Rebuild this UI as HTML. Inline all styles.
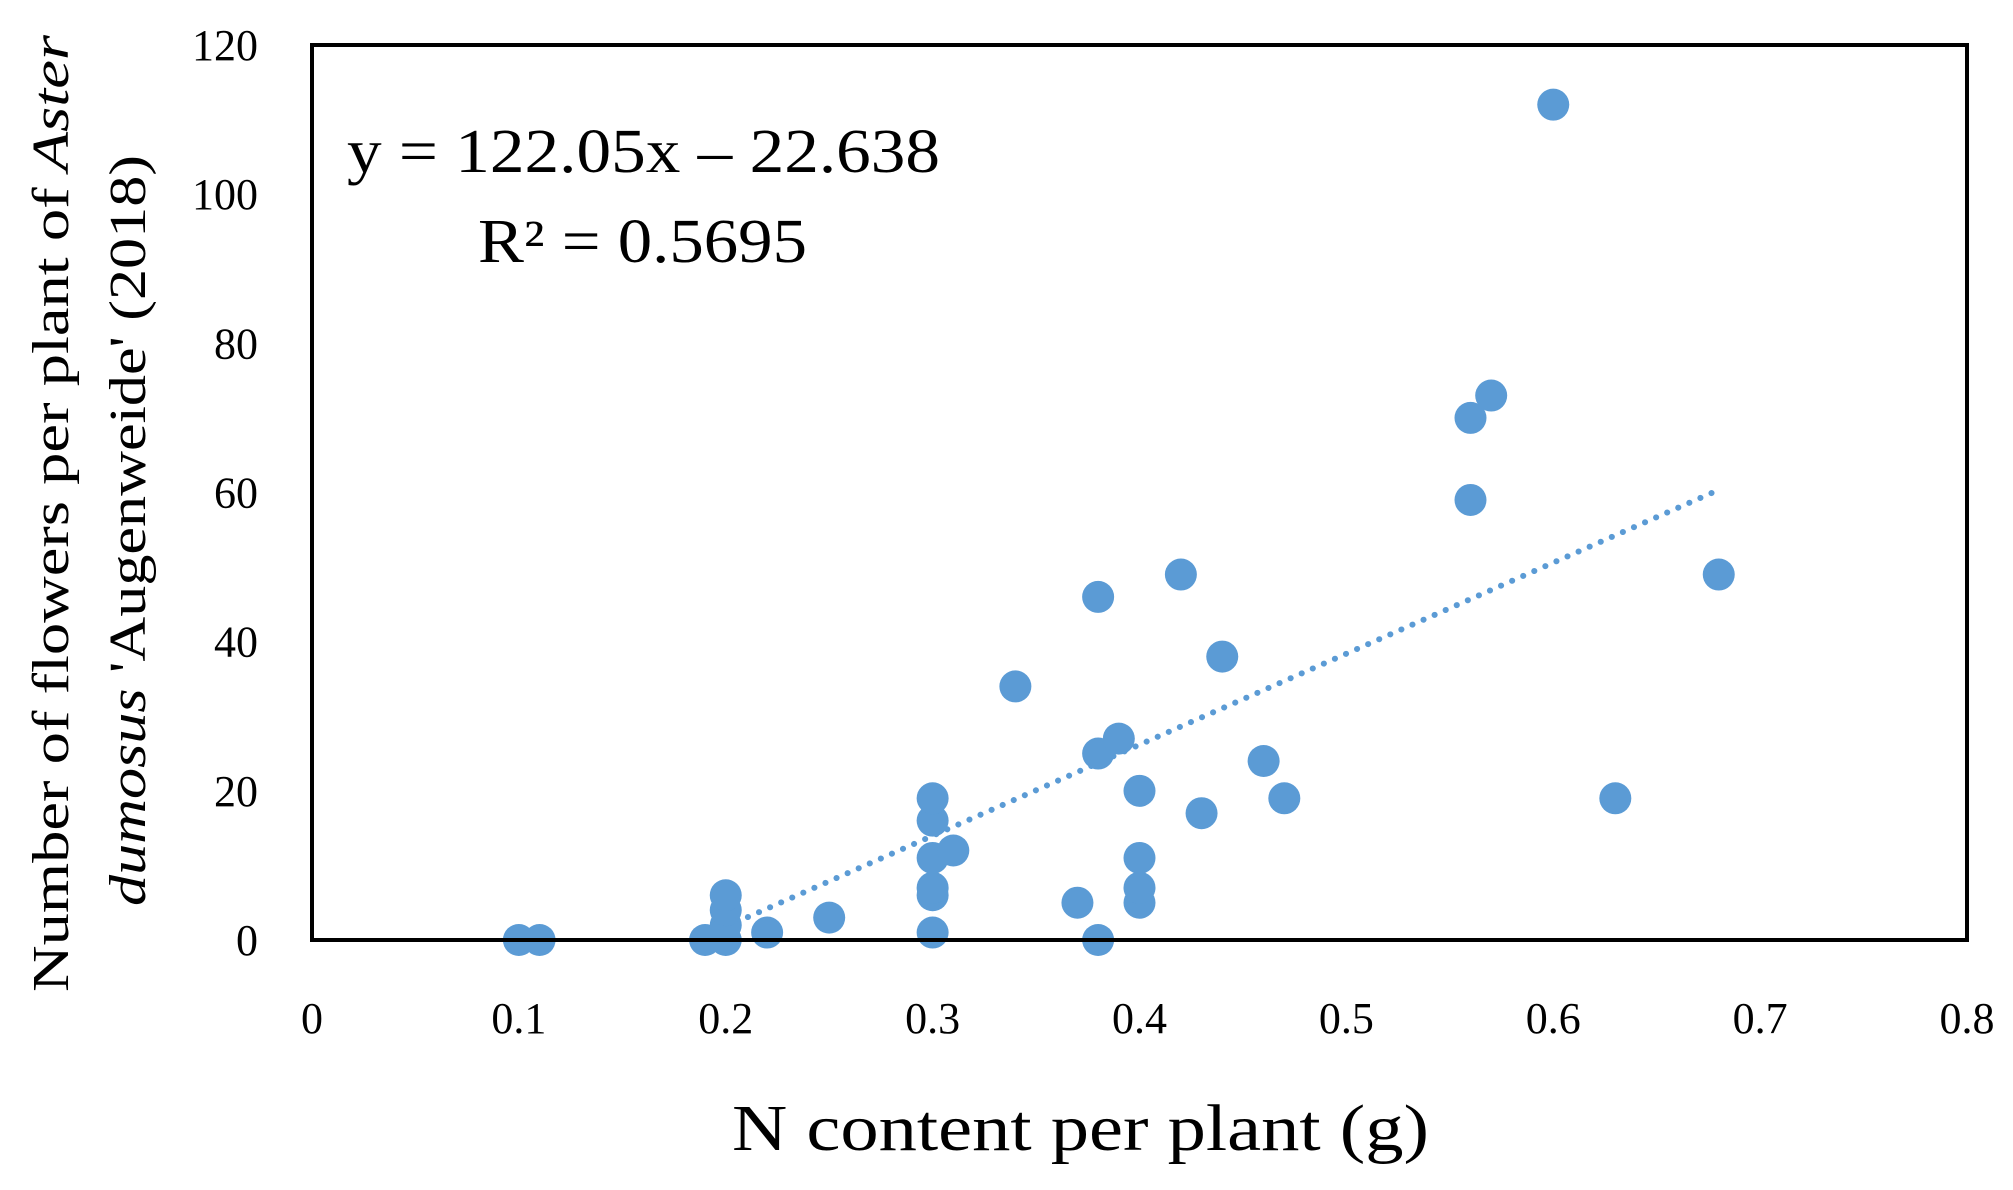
<!DOCTYPE html>
<html><head><meta charset="utf-8"><style>
html,body{margin:0;padding:0;background:#fff}
svg{display:block;font-family:"Liberation Serif","DejaVu Serif",serif}
</style></head><body>
<svg id="chart" width="2013" height="1190" viewBox="0 0 2013 1190" xmlns="http://www.w3.org/2000/svg">
<g id="marks"></g>
<rect x="312" y="45" width="1655" height="895" fill="none" stroke="#000" stroke-width="4"/>
<g id="ticks"></g>
<text x="347" y="172" font-size="62" textLength="593" lengthAdjust="spacingAndGlyphs">y = 122.05x – 22.638</text>
<text x="478" y="262" font-size="62" textLength="329" lengthAdjust="spacingAndGlyphs">R² = 0.5695</text>
<text x="732" y="1150" font-size="66" textLength="697" lengthAdjust="spacingAndGlyphs">N content per plant (g)</text>
<g transform="translate(0,514) rotate(-90)" font-size="52">
<text x="-478" y="68" textLength="957" lengthAdjust="spacingAndGlyphs">Number of flowers per plant of <tspan font-style="italic">Aster</tspan></text>
<text x="-392" y="145" textLength="751" lengthAdjust="spacingAndGlyphs"><tspan font-style="italic">dumosus</tspan> 'Augenweide' (2018)</text>
</g>
</svg>
<script>
const xValues=[0.1,0.11,0.19,0.2,0.2,0.2,0.2,0.22,0.25,0.3,0.3,0.3,0.3,0.3,0.3,0.31,0.34,0.37,0.38,0.38,0.38,0.39,0.4,0.4,0.4,0.4,0.42,0.43,0.44,0.46,0.47,0.56,0.56,0.57,0.6,0.63,0.68];
const yValues=[0,0,0,0,2,4,6,1,3,1,6,7,11,16,19,12,34,5,0,25,46,27,5,7,11,20,49,17,38,24,19,59,70,73,112,19,49];
const xTicks=[0,0.1,0.2,0.3,0.4,0.5,0.6,0.7,0.8];
const yTicks=[0,20,40,60,80,100,120];
const trendSlope=122.05, trendIntercept=-22.638, trendRange=[0.2,0.68];
const NS='http://www.w3.org/2000/svg';
const xs=v=>312+v/0.8*1655;
const ys=v=>940-v/120*895;
const marks=document.getElementById('marks');
const ticks=document.getElementById('ticks');
const tl=document.createElementNS(NS,'line');


tl.setAttribute('x1',xs(trendRange[0]));tl.setAttribute('y1',ys(trendSlope*trendRange[0]+trendIntercept));
tl.setAttribute('x2',xs(trendRange[1]));tl.setAttribute('y2',ys(trendSlope*trendRange[1]+trendIntercept));
tl.setAttribute('stroke','#5B9BD5');tl.setAttribute('stroke-width','6');
tl.setAttribute('stroke-dasharray','0.1 12');tl.setAttribute('stroke-linecap','round');
marks.appendChild(tl);
xValues.forEach((x,i)=>{
 const c=document.createElementNS(NS,'circle');
 
 
 c.setAttribute('cx',xs(x));c.setAttribute('cy',ys(yValues[i]));c.setAttribute('r',16);
 c.setAttribute('fill','#5B9BD5');
 marks.appendChild(c);
});
xTicks.forEach(t=>{
 const e=document.createElementNS(NS,'text');
 
 
 e.setAttribute('x',xs(t));e.setAttribute('y',1033);e.setAttribute('font-size','44');e.setAttribute('text-anchor','middle');
 e.textContent=String(t);ticks.appendChild(e);
});
yTicks.forEach(t=>{
 const e=document.createElementNS(NS,'text');
 
 
 e.setAttribute('x',258);e.setAttribute('y',ys(t)+15);e.setAttribute('font-size','44');e.setAttribute('text-anchor','end');
 e.textContent=String(t);ticks.appendChild(e);
});
</script>
</body></html>
